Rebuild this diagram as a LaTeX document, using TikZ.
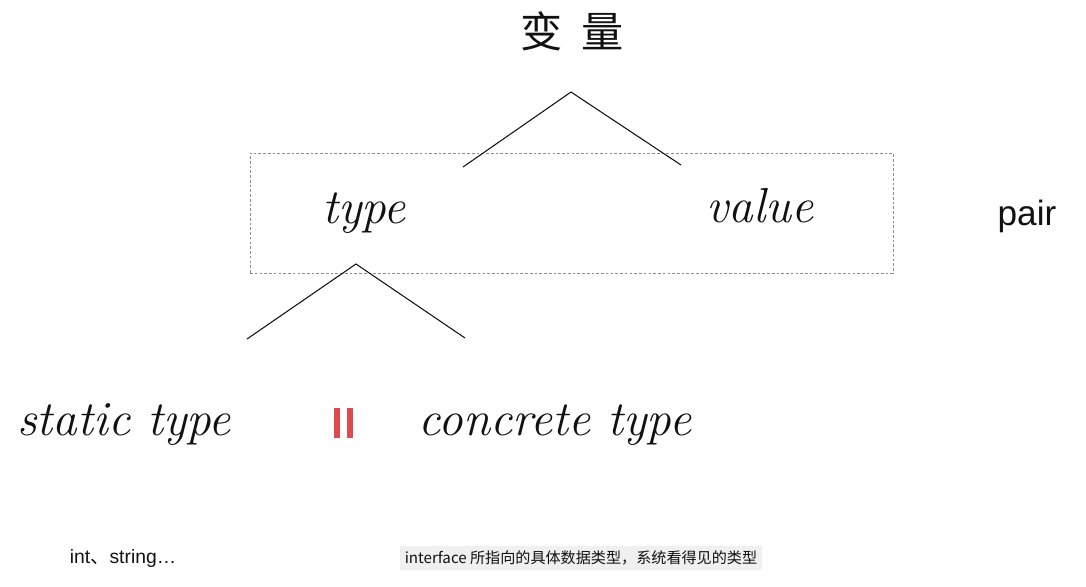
\documentclass[tikz,border=0pt]{standalone}
\usepackage{fontspec}
\usepackage{xcolor}
\usepackage{tikz}
\usetikzlibrary{positioning}
\newfontfamily\cjk{Noto Sans CJK SC}
\newfontfamily\labelsans{Liberation Sans}
\definecolor{VarRed}{HTML}{DE4A4E}
\definecolor{VarBlack}{HTML}{111111}
\colorlet{VarGuide}{black!45}
\colorlet{VarMark}{black!6}
\tikzset{
  every node/.style = {text=VarBlack, inner sep=0pt},
  title/.style = {font=\cjk\fontsize{24}{28}\selectfont},
  term/.style = {font=\itshape\fontsize{28}{32}\selectfont, anchor=base},
  side note/.style = {font=\labelsans\fontsize{20}{24}\selectfont, anchor=base},
  foot note/.style = {font=\labelsans\fontsize{11}{13}\selectfont, anchor=base},
  mark note/.style = {
    font=\cjk\fontsize{8.6}{11}\selectfont,
    fill=VarMark,
    inner xsep=3pt,
    inner ysep=3pt
  },
  branch/.style = {draw=VarBlack, line width=0.6pt},
  pair box/.style = {
    draw=VarGuide,
    dash pattern=on 1.5pt off 1.2pt,
    line width=0.5pt,
    minimum width=12.86cm,
    minimum height=2.40cm
  },
  eq bar/.style = {fill=VarRed, minimum width=0.13cm, minimum height=0.60cm},
}

\begin{document}
\begin{tikzpicture}[x=0.02cm,y=-0.02cm]
  \useasboundingbox (0,0) rectangle (1086,586);

  \node[title] (var) at (572,31) {变\hspace{11pt}量};

  \node[pair box] (pairbox) at (571.5,213) {};
  \node[term] (type) at (364,223) {type};
  \node[term] (value) at (760,222) {value};
  \node[side note] (pair) at (1027,225) {pair};

  % upper branch
  \coordinate (var apex) at (571,92);
  \coordinate (var left) at (463,167);
  \coordinate (var right) at (681,165);
  \draw[branch] (var left) -- (var apex) -- (var right);

  % lower branch
  \coordinate (type apex) at (356,264);
  \coordinate (type left) at (247,339);
  \coordinate (type right) at (465,338);
  \draw[branch] (type left) -- (type apex) -- (type right);

  \node[term] (static) at (124,435) {static type};
  \node[eq bar] (eq left) at (337,423) {};
  \node[eq bar, right=0.12cm of eq left] (eq right) {};
  \node[term] (concrete) at (555,435) {concrete type};

  \node[foot note] (static ex) at (123,563) {int{\cjk 、}string…};
  \node[mark note] (concrete ex) at (581,558)
    {interface 所指向的具体数据类型，系统看得见的类型};
\end{tikzpicture}
\end{document}
